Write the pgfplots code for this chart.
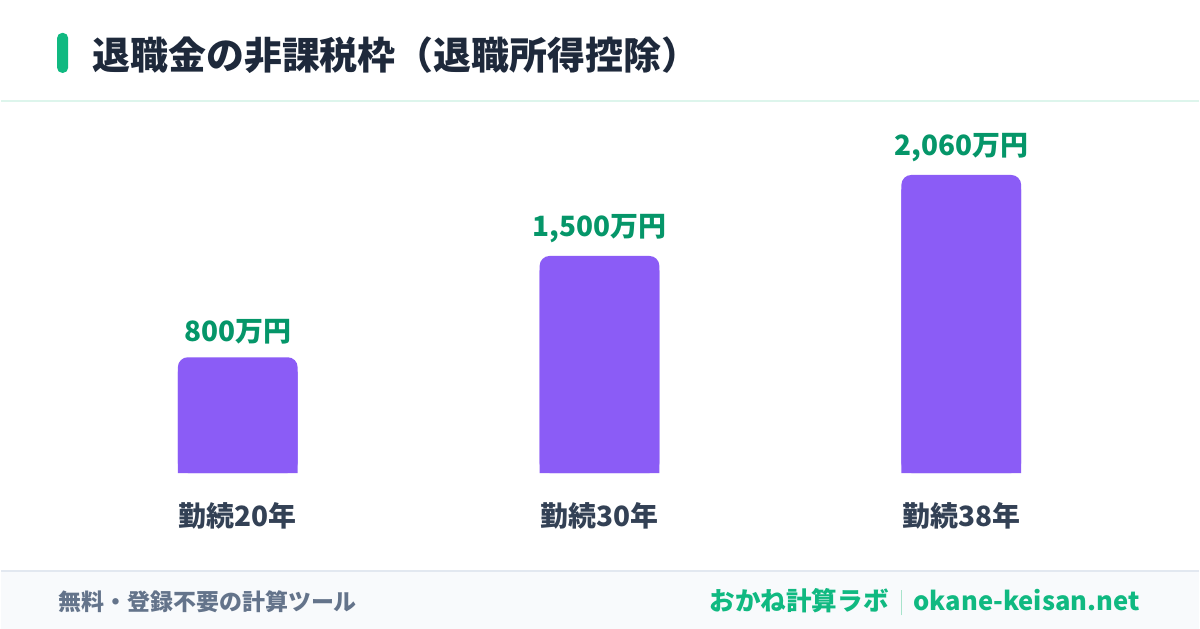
\documentclass[border=0pt]{standalone}
\usepackage{fontspec}
\setmainfont{Noto Sans CJK JP}
\usepackage{pgfplots}
\usepackage{pgfplotstable}
\pgfplotsset{compat=1.18}

\definecolor{barviolet}{HTML}{8B5CF6}
\definecolor{valgreen}{HTML}{059669}
\definecolor{brandgreen}{HTML}{10B981}
\definecolor{titleink}{HTML}{1E293B}
\definecolor{catink}{HTML}{334155}
\definecolor{footink}{HTML}{64748B}
\definecolor{footbg}{HTML}{F8FAFC}
\definecolor{footline}{HTML}{E2E8F0}
\definecolor{headline}{HTML}{DDF5EC}
\definecolor{sepline}{HTML}{A7E3CB}

% years of service vs. tax-free allowance (10k yen)
\pgfplotstableread{
x v lbl
0 800 {800万円}
1 1500 {1,500万円}
2 2060 {2,060万円}
}\allowance
% square lower part, hides the rounded bottom corners
\pgfplotstableread{
x v
0 700
1 1400
2 1960
}\allowancebase

\begin{document}
\begin{tikzpicture}
% canvas 1200x630 px, 1px = 0.5pt, y downwards negative
\fill[white] (0,0) rectangle (600pt,-315pt);
\fill[footbg] (0,-286pt) rectangle (600pt,-315pt);
\draw[footline, line width=1pt] (0,-286pt) -- (600pt,-286pt);
\draw[headline, line width=1.25pt] (0,-50.5pt) -- (600pt,-50.5pt);
\fill[brandgreen, rounded corners=2.5pt] (28pt,-16.5pt) rectangle (33.5pt,-36.5pt);
\node[anchor=west, inner sep=0, text=titleink, font=\fontsize{19}{21}\selectfont\bfseries]
  at (45.5pt,-27.5pt) {退職金の非課税枠（退職所得控除）};

\begin{axis}[
  at={(9.75pt,-237pt)}, anchor=south west,
  width=580pt, height=181.25pt, scale only axis,
  xmin=-0.6, xmax=2.6, ymin=0, ymax=2500,
  axis line style={draw=none},
  major tick style={draw=none},
  ytick=\empty,
  xtick={0,1,2},
  xticklabels={勤続20年,勤続30年,勤続38年},
  xticklabel style={font=\fontsize{14}{16}\selectfont\bfseries, text=catink, yshift=-7pt},
  ybar, bar width=60pt,
  clip=false,
]
\addplot[fill=barviolet, draw=none, bar shift=0pt]
  table[x=x, y=v] {\allowancebase};
\addplot[fill=barviolet, draw=none, bar shift=0pt, rounded corners=5pt,
  point meta=explicit symbolic,
  nodes near coords,
  every node near coord/.append style={font=\fontsize{14}{16}\selectfont\bfseries,
    text=valgreen, anchor=south, inner sep=0pt, yshift=6.5pt, rounded corners=0pt}]
  table[x=x, y=v, meta=lbl] {\allowance};
\end{axis}

\node[anchor=west, inner sep=0, text=footink, font=\fontsize{11.5}{13}\selectfont\bfseries]
  at (28.5pt,-301.5pt) {無料・登録不要の計算ツール};
\node[anchor=east, inner sep=0, text=brandgreen, font=\fontsize{12.8}{14}\selectfont\bfseries]
  at (570.5pt,-301.5pt) {おかね計算ラボ\hspace{6pt}{\color{sepline}\rule[-2.5pt]{0.5pt}{12.5pt}}\hspace{6pt}okane-keisan.net};
\end{tikzpicture}
\end{document}
